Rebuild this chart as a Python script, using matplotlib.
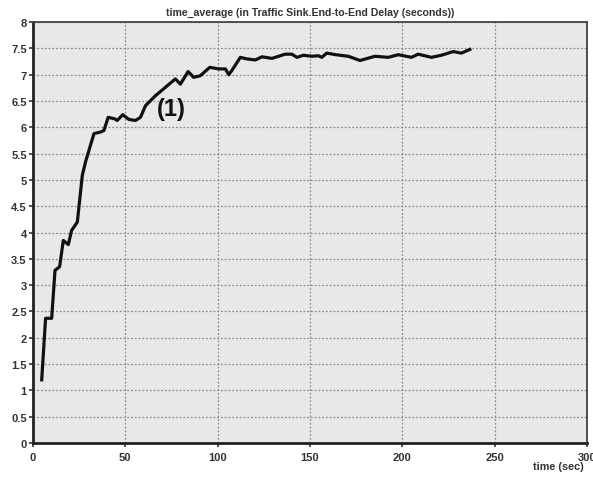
import numpy as np
import matplotlib.pyplot as plt

# values (time in sec, end-to-end delay in sec)
time_sec = [4.7, 6.8, 10.1, 11.9, 14.4, 16.4, 19.1, 20.9, 24.0, 26.7, 28.5,
            33.0, 36.6, 38.4, 40.7, 44.3, 45.6, 48.6, 51.9, 55.5, 58.2, 60.9,
            66.3, 71.7, 77.1, 79.8, 84.0, 87.0, 90.6, 95.7, 100.5, 104.2,
            106.0, 107.7, 112.3, 115.8, 120.4, 124.0, 129.4, 136.6, 140.2,
            142.9, 146.5, 151.0, 154.6, 156.4, 159.1, 164.0, 170.8, 177.1,
            185.2, 192.4, 197.8, 205.0, 208.6, 215.8, 221.2, 227.6, 232.0,
            236.6]
delay_sec = [1.2, 2.37, 2.37, 3.28, 3.35, 3.85, 3.77, 4.04, 4.2, 5.09, 5.35,
             5.88, 5.91, 5.94, 6.19, 6.16, 6.13, 6.24, 6.15, 6.13, 6.19, 6.41,
             6.6, 6.76, 6.92, 6.82, 7.06, 6.95, 6.98, 7.14, 7.11, 7.11,
             7.0, 7.08, 7.33, 7.3, 7.28, 7.34, 7.31, 7.39, 7.39,
             7.33, 7.37, 7.35, 7.36, 7.33, 7.41, 7.38, 7.35, 7.27,
             7.35, 7.33, 7.38, 7.33, 7.39, 7.33, 7.37, 7.44, 7.41,
             7.48]

x_ticks = np.arange(0, 301, 50)
y_ticks = np.arange(0, 8.01, 0.5)
y_labels = ['0', '0.5', '1', '1.5', '2', '2.5', '3', '3.5', '4', '4.5',
            '5', '5.5', '6', '6.5', '7', '7.5', '8']

plt.rcParams['font.family'] = ['Liberation Sans', 'DejaVu Sans']

fig = plt.figure(figsize=(5.93, 4.81), dpi=100)
ax = fig.add_axes([0.0557, 0.077, 0.934, 0.875])
ax.set_facecolor('#e8e8e8')

ax.plot(time_sec, delay_sec, color='#111111', linewidth=2.3,
        solid_joinstyle='round', zorder=3)

ax.text(75, 6.35, '(1)', fontsize=17, fontweight='bold', color='#111111',
        ha='center', va='center')

ax.set_xlim(0, 300)
ax.set_ylim(0, 8)
ax.set_xticks(x_ticks)
ax.set_yticks(y_ticks)
ax.set_yticklabels(y_labels)
ax.tick_params(axis='both', labelsize=8, length=3, width=1.2,
               color='#333333', labelcolor='#333333', pad=1.5)
ax.tick_params(axis='x', pad=3.5)
for lab in ax.get_xticklabels() + ax.get_yticklabels():
    lab.set_fontweight('bold')
ax.grid(True, color='#8c8c8c', linestyle=(0, (1.5, 1.5)), linewidth=0.9)
ax.set_axisbelow(True)

for side in ['left', 'bottom']:
    ax.spines[side].set_linewidth(2.0)
    ax.spines[side].set_color('#222222')
for side in ['top', 'right']:
    ax.spines[side].set_linewidth(1.3)
    ax.spines[side].set_color('#444444')

ax.set_title('time_average (in Traffic Sink.End-to-End Delay (seconds))',
             fontsize=7.6, fontweight='bold', color='#333333', pad=5)
fig.text(0.985, 0.018, 'time (sec)', fontsize=7.8, fontweight='bold',
         color='#333333', ha='right', va='bottom')

fig.savefig('out.png', dpi=100, facecolor='white')
